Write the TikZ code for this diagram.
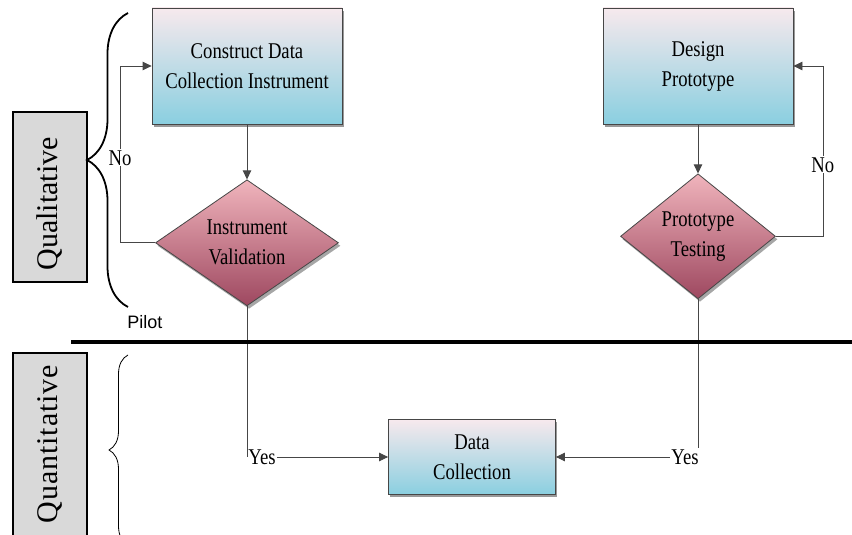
\documentclass[tikz,border=0pt]{standalone}
\usepackage{fontspec}
\setmainfont{Liberation Serif}[FakeStretch=0.83]
\newfontfamily\sidefont{Liberation Serif}
\newfontfamily\quantfont{Liberation Serif}[LetterSpace=3]
\newfontfamily\pilotfont{Liberation Sans}
\usepackage{tikz}
\usetikzlibrary{shapes.geometric, arrows.meta, positioning, calc, shadows, decorations.pathreplacing}
\definecolor{line-gray}{RGB}{70,70,70}
\definecolor{box-top}{RGB}{247,233,237}
\definecolor{box-bottom}{RGB}{138,207,224}
\definecolor{dec-top}{RGB}{240,180,188}
\definecolor{dec-bottom}{RGB}{158,72,96}
\definecolor{side-gray}{RGB}{217,217,217}
\newcommand{\flowfont}{\fontsize{22.5}{30}\selectfont}

\begin{document}
\begin{tikzpicture}[
    x=1pt, y=1pt,
    box/.style={rectangle, draw=line-gray, line width=0.8pt, top color=box-top, bottom color=box-bottom, minimum width=190pt, minimum height=116pt, inner sep=0pt, align=center, font=\flowfont, drop shadow={shadow xshift=1.5pt, shadow yshift=-3pt, fill=black!40, opacity=1}},
    decision/.style={diamond, draw=line-gray, line width=0.8pt, top color=dec-top, bottom color=dec-bottom, aspect=1.45, inner sep=0pt, align=center, font=\flowfont, drop shadow={shadow xshift=2pt, shadow yshift=-3pt, fill=black!35, opacity=1}},
    sidebox/.style={rectangle, draw=black, line width=2pt, fill=side-gray, minimum width=74pt},
    sidetext/.style={rotate=90, inner sep=0pt},
    note/.style={font=\flowfont, inner sep=1pt},
    arrow/.style={-{Triangle[length=9pt,width=8.5pt]}, draw=line-gray, line width=0.8pt},
    link/.style={draw=line-gray, line width=0.8pt}
]
\useasboundingbox (0,0) rectangle (852,535);
\clip (0,0) rectangle (852,535);

% Phase labels
\node[sidebox, minimum height=170pt] (qualbox) at (50, 338) {};
\node[sidetext, font=\sidefont\fontsize{30}{36}\selectfont] (qualtext) at (50, 331) {Qualitative};
\node[sidebox, minimum height=200pt] (quantbox) at (50, 82) {};
\node[sidetext, font=\quantfont\fontsize{30}{36}\selectfont] (quanttext) at (50, 91) {Quantitative};

% Qualitative steps
\node[box] (construct) at (247, 469) {Construct Data\\Collection Instrument};
\node[decision, below=55pt of construct, minimum width=183pt, minimum height=126pt] (validation) {Instrument\\Validation};
\node[box] (design) at (698, 469) {Design\\Prototype};
\node[decision, below=49pt of design, minimum width=155pt, minimum height=125pt] (testing) {Prototype\\Testing};
\node[font=\pilotfont\fontsize{18}{22}\selectfont] (pilot) at (145, 213) {Pilot};

% Quantitative step
\node[box, minimum width=167pt, minimum height=75pt] (collection) at (472, 78) {Data\\Collection};
\node[note] (yesleft) at (262, 78) {Yes};
\node[note] (yesright) at (685, 78) {Yes};

% Arrows
\draw[arrow] (construct) -- (validation);
\draw[arrow] (design) -- (testing);
\draw[arrow] (validation.west) -- ++(-35,0) |- (construct.west) node[pos=0.24, fill=white, note] (noleft) {No};
\draw[arrow] (testing.east) -- ++(47,0) |- (design.east) node[pos=0.21, fill=white, note] (noright) {No};
\draw[link] (validation.south) -- (validation.south |- yesleft.center);
\draw[arrow] (yesleft) -- (collection);
\draw[link] (testing.south) -- (testing.south |- yesright.north);
\draw[arrow] (yesright) -- (collection);

% Divider and braces
\draw[line width=4pt] (71, 193) -- (852, 193);
\draw[decorate, decoration={brace, amplitude=41pt}, line width=1.8pt] (128, 228) -- (128, 522);
\draw[decorate, decoration={brace, amplitude=19pt}, line width=0.8pt] (128, -10) -- (128, 180);

\end{tikzpicture}
\end{document}
